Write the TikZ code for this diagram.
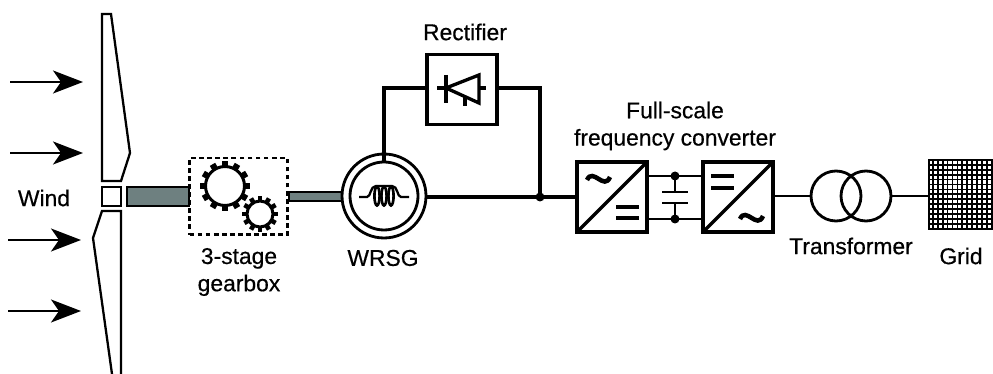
\documentclass[tikz,border=0pt]{standalone}
\usepackage{fontspec}
\setmainfont[FakeBold=0.5]{Liberation Sans}
\usetikzlibrary{arrows.meta}
\definecolor{shaftgray}{HTML}{6E8080}
\tikzset{
    wire/.style={line width=1.9pt},
    thinwire/.style={line width=1.3pt},
    label/.style={font=\fontsize{13}{15}\selectfont, align=center, inner sep=0pt},
    windarrow/.style={line width=1.2pt, -{Stealth[length=0.6cm, width=0.46cm, inset=0.16cm]}},
    unit/.style={draw, line width=1.9pt, minimum size=1.4cm, inner sep=0pt},
    shaft/.style={draw, line width=1.3pt, fill=shaftgray, inner sep=0pt},
    ring/.style={draw, circle, line width=1.6pt, inner sep=0pt},
    tooth/.style={line width=3.5pt},
    dot/.style={circle, fill, inner sep=0pt, minimum size=0.18cm},
    symb/.style={line width=2.6pt}
}
\begin{document}
\begin{tikzpicture}[x=0.02cm, y=-0.02cm]
    \useasboundingbox (0,0) rectangle (993,374);
    \def\Ymain{197}; % main line
    \def\Yup{176}; % dc link
    \def\Ydn{219};

    % blades
    \draw[thinwire] (102,14) -- (111,14) -- (130,153) -- (121,181) -- (102,181) -- cycle;
    \draw[thinwire] (112,374) -- (93,238) -- (102,211) -- (121,211) -- (121,374);
    \node[draw, line width=1.5pt, minimum width=0.38cm, minimum height=0.38cm, inner sep=0pt] (hub) at (111.5,196.5) {};

    % wind
    \coordinate (wa) at (10,82);
    \coordinate (wb) at (10,153);
    \coordinate (wc) at (8,240);
    \coordinate (wd) at (8,311);
    \coordinate (wae) at (83,82);
    \coordinate (wbe) at (83,153);
    \coordinate (wce) at (81,240);
    \coordinate (wde) at (81,311);
    \draw[windarrow] (wa) -- (wae);
    \draw[windarrow] (wb) -- (wbe);
    \draw[windarrow] (wc) -- (wce);
    \draw[windarrow] (wd) -- (wde);
    \node[label] (wind) at (44,198) {Wind};

    % gearbox
    \node[draw, line width=1.7pt, dash pattern=on 2.7pt off 1.9pt, minimum width=1.96cm, minimum height=1.54cm, inner sep=0pt] (gearbox) at (238.5,196.5) {};
    \foreach \a in {0,30,...,330} {
        \draw[tooth] (225,186) -- ++(\a:0.5cm);
        \draw[line width=2.6pt] (260,214) -- ++(\a:0.36cm);
    }
    \node[ring, line width=1.7pt, fill=white, minimum size=0.78cm] (gearbig) at (225,186) {};
    \node[ring, line width=1.7pt, fill=white, minimum size=0.52cm] (gearsmall) at (260,214) {};
    \node[label] (gearboxtext) at (239,272) {3-stage\\[0.5pt]gearbox};

    % shafts
    \node[shaft, minimum width=1.24cm, minimum height=0.38cm] (shafta) at (158,196.5) {};
    \node[shaft, minimum width=1.2cm, minimum height=0.18cm] (shaftb) at (319,196.5) {};

    % generator
    \node[ring, minimum size=1.68cm, fill=white] (wrsg) at (384,196) {};
    \node[ring, minimum size=1.36cm] (wrsgin) at (384,196) {};
    \node[label] (wrsgtext) at (383,258) {WRSG};
    \draw[thinwire] (359,197) -- (367,197) .. controls (371,197) and (370,186) .. (376,186) -- (392,186) .. controls (398,186) and (397,197) .. (401,197) -- (409,197);
    \foreach \x in {377,384,391}
        \draw[line width=1.5pt] (\x,196) ellipse (2.6 and 9.5);

    % rectifier
    \node[unit] (rectifier) at (462,89.5) {};
    \node[label] (rectifiertext) at (465,32) {Rectifier};
    \draw[wire] (437,88) -- (446,88);
    \draw[wire] (479,88) -- (486,88);
    \draw[wire] (446,75) -- (446,103);
    \draw[wire] (446,88) -- (479,75) -- (479,103) -- cycle;
    \draw[wire] (465,97) -- (465,106);

    % junction
    \node[dot] (junction) at (540,\Ymain) {};
    \draw[wire] (wrsgin.north) |- (rectifier.west |- 0,88);
    \draw[wire] (rectifier.east |- 0,88) -| (junction.center);

    % converter
    \node[unit] (rect) at (612,197) {};
    \node[unit] (inv) at (738,197) {};
    \node[label] (convtext) at (675,126) {Full-scale\\[0.5pt]frequency converter};
    \draw[wire, shorten >=1pt, shorten <=1pt] (rect.south west) -- (rect.north east);
    \draw[wire, shorten >=1pt, shorten <=1pt] (inv.south west) -- (inv.north east);
    \draw[symb] (587,180) .. controls (593,167) and (604,191) .. (610,177);
    \draw[symb] (616,207) -- (639,207);
    \draw[symb] (616,218) -- (639,218);
    \draw[symb] (711,176) -- (734,176);
    \draw[symb] (711,188) -- (734,188);
    \draw[symb] (740,219) .. controls (746,206) and (757,230) .. (763,216);

    % dc link
    \node[dot] (dcup) at (675,\Yup) {};
    \node[dot] (dcdn) at (675,\Ydn) {};
    \coordinate (capa) at (675,192);
    \coordinate (capb) at (675,203);
    \draw[line width=1.6pt] (rect.east |- dcup) -- (inv.west |- dcup);
    \draw[line width=1.6pt] (rect.east |- dcdn) -- (inv.west |- dcdn);
    \draw[thinwire] (dcup.center) -- (capa);
    \draw[thinwire] (dcdn.center) -- (capb);
    \draw[thinwire] (662,192) -- (688,192);
    \draw[thinwire] (662,203) -- (688,203);

    % transformer
    \node[ring, minimum size=1cm] (tra) at (836,196) {};
    \node[ring, minimum size=1cm] (trb) at (866,196) {};
    \node[label] (trtext) at (851,246) {Transformer};

    % grid
    \node[draw, line width=1.3pt, minimum width=1.3cm, minimum height=1.38cm, inner sep=0pt, anchor=west] (grid) at (928,194.5) {};
    \foreach \i in {1,...,13}
        \draw[line width=1pt] (928+4.9*\i,160) -- (928+4.9*\i,229);
    \foreach \i in {1,...,13}
        \draw[line width=1pt] (928,160+4.9*\i) -- (993,160+4.9*\i);
    \node[label] (gridtext) at (961,256) {Grid};

    % connections
    \draw[wire] (wrsg.east |- junction) -- (rect.west);
    \draw[thinwire] (inv.east |- tra.west) -- (tra.west);
    \draw[thinwire] (trb.east) -- (grid.west |- trb.east);
\end{tikzpicture}
\end{document}
